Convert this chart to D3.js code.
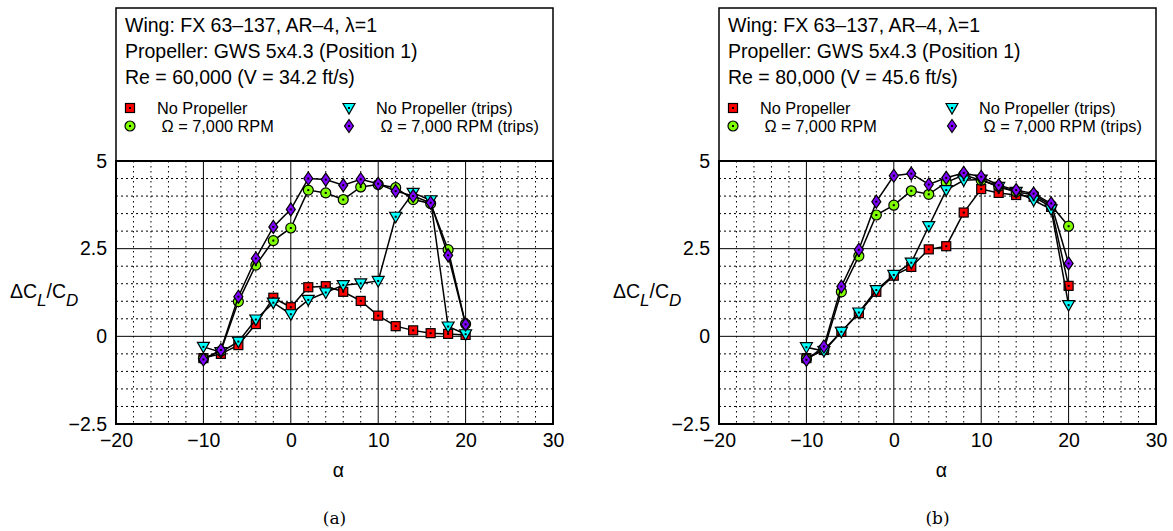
<!DOCTYPE html>
<html>
<head>
<meta charset="utf-8">
<script src="https://cdn.jsdelivr.net/npm/d3@7"></script>
<style>
  body { margin: 0; background: #fff; }
  text { font-family: "Liberation Sans", Arial, sans-serif; }
</style>
</head>
<body>
<div id="main"></div>
<script>
// angle of attack (deg)
var alpha = [-10, -8, -6, -4, -2, 0, 2, 4, 6, 8, 10, 12, 14, 16, 18, 20];

// Re = 60,000
var noPropA     = [-0.62, -0.50, -0.25, 0.35, 1.10, 0.83, 1.40, 1.43, 1.27, 1.01, 0.59, 0.29, 0.17, 0.09, 0.07, 0.04];
var propA       = [-0.64, -0.42, 0.99, 2.03, 2.73, 3.09, 4.17, 4.09, 3.90, 4.26, 4.33, 4.24, 3.90, 3.79, 2.47, 0.35];
var noPropTripA = [-0.30, -0.45, -0.15, 0.48, 0.96, 0.63, 1.04, 1.25, 1.46, 1.51, 1.58, 3.41, 4.09, 3.88, 0.28, 0.06];
var propTripA   = [-0.66, -0.39, 1.13, 2.22, 3.12, 3.62, 4.50, 4.47, 4.31, 4.48, 4.35, 4.14, 4.00, 3.81, 2.31, 0.34];

// Re = 80,000
var noPropB     = [-0.62, -0.39, 0.13, 0.66, 1.27, 1.73, 1.98, 2.48, 2.57, 3.53, 4.20, 4.09, 4.03, 3.98, 3.69, 1.44];
var propB       = [-0.64, -0.38, 1.27, 2.29, 3.46, 3.74, 4.15, 4.05, 4.39, 4.60, 4.45, 4.28, 4.12, 4.03, 3.74, 3.14];
var noPropTripB = [-0.31, -0.42, 0.13, 0.68, 1.32, 1.75, 2.10, 3.14, 4.17, 4.45, 4.47, 4.26, 4.12, 3.88, 3.62, 0.89];
var propTripB   = [-0.67, -0.29, 1.42, 2.47, 3.84, 4.58, 4.64, 4.33, 4.52, 4.66, 4.55, 4.31, 4.17, 4.07, 3.79, 2.08];

var xTicks = [-20, -10, 0, 10, 20, 30];
var yTicks = [-2.5, 0, 2.5, 5];
var seriesNames = ["No Propeller", " \u03a9 = 7,000 RPM", "No Propeller (trips)", " \u03a9 = 7,000 RPM (trips)"];
var seriesColors = ["#ff0000", "#80ff00", "#00ffff", "#8000ff"];
var seriesShapes = ["square", "circle", "triangle", "diamond"];

var svg = d3.select("#main").append("svg")
    .attr("width", 1173)
    .attr("height", 531);

function marker(g, shape, color) {
    if (shape === "square") {
        g.append("rect").attr("x", -4.5).attr("y", -4.5).attr("width", 9).attr("height", 9)
            .attr("fill", color).attr("stroke", "#000").attr("stroke-width", 1.2);
    } else if (shape === "circle") {
        g.append("circle").attr("r", 5).attr("fill", color).attr("stroke", "#000").attr("stroke-width", 1.2);
    } else if (shape === "triangle") {
        g.append("path").attr("d", "M-6,-4.5L6,-4.5L0,6Z")
            .attr("fill", color).attr("stroke", "#000").attr("stroke-width", 1.2);
    } else {
        g.append("path").attr("d", "M0,-6.5L4.5,0L0,6.5L-4.5,0Z")
            .attr("fill", color).attr("stroke", "#000").attr("stroke-width", 1.2);
    }
    // small centre dot
    g.append("rect").attr("x", -1).attr("y", -1).attr("width", 2).attr("height", 2).attr("fill", "#000");
}

function drawPanel(left, reLine, seriesData, caption) {
    var plot = {left: left, top: 161, width: 437, height: 263};
    var x = d3.scaleLinear().domain([-20, 30]).range([plot.left, plot.left + plot.width]);
    var y = d3.scaleLinear().domain([-2.5, 5]).range([plot.top + plot.height, plot.top]);
    var g = svg.append("g");

    // legend / info box
    g.append("rect")
        .attr("x", plot.left).attr("y", 8)
        .attr("width", plot.width).attr("height", plot.top - 8)
        .attr("fill", "none").attr("stroke", "#000").attr("stroke-width", 1.5);

    var lines = ["Wing: FX 63\u2013137, AR\u20134, \u03bb=1", "Propeller: GWS 5x4.3 (Position 1)", reLine];
    lines.forEach(function(t, i) {
        g.append("text").attr("x", plot.left + 9).attr("y", 32 + i * 26)
            .attr("font-size", 19.5).text(t);
    });

    seriesNames.forEach(function(name, i) {
        var col = i < 2 ? 0 : 1;
        var row = i % 2;
        var mx = plot.left + (col ? 233 : 14);
        var my = 108 + row * 18;
        marker(g.append("g").attr("transform", "translate(" + mx + "," + my + ")"), seriesShapes[i], seriesColors[i]);
        g.append("text").attr("x", mx + 27).attr("y", my + 5.5)
            .attr("font-size", 16.3).attr("xml:space", "preserve").text(name);
    });

    // minor grid
    var minorX = d3.range(-18, 30, 2).filter(function(v) { return v % 10 !== 0; });
    var minorY = d3.range(-2, 5, 0.5).filter(function(v) { return Math.abs(v % 2.5) > 1e-9; });
    g.selectAll(".mx").data(minorX).enter().append("line")
        .attr("x1", x).attr("x2", x).attr("y1", plot.top).attr("y2", plot.top + plot.height)
        .attr("stroke", "#000").attr("stroke-width", 1).attr("stroke-dasharray", "1.5,3.5");
    g.selectAll(".my").data(minorY).enter().append("line")
        .attr("y1", y).attr("y2", y).attr("x1", plot.left).attr("x2", plot.left + plot.width)
        .attr("stroke", "#000").attr("stroke-width", 1).attr("stroke-dasharray", "2,3");

    // major grid
    g.selectAll(".gx").data([-10, 0, 10, 20]).enter().append("line")
        .attr("x1", x).attr("x2", x).attr("y1", plot.top).attr("y2", plot.top + plot.height)
        .attr("stroke", "#000").attr("stroke-width", 1);
    g.selectAll(".gy").data([0, 2.5]).enter().append("line")
        .attr("y1", y).attr("y2", y).attr("x1", plot.left).attr("x2", plot.left + plot.width)
        .attr("stroke", "#000").attr("stroke-width", 1);

    // axes
    var xAxis = g.append("g").attr("transform", "translate(0," + (plot.top + plot.height) + ")")
        .call(d3.axisBottom(x).tickValues(xTicks).tickSize(0).tickPadding(9)
            .tickFormat(function(d) { return d < 0 ? "\u2212" + (-d) : d; }));
    var yAxis = g.append("g").attr("transform", "translate(" + plot.left + ",0)")
        .call(d3.axisLeft(y).tickValues(yTicks).tickSize(0).tickPadding(9)
            .tickFormat(function(d) { return d < 0 ? "\u2212" + (-d) : d; }));
    [xAxis, yAxis].forEach(function(a) {
        a.select(".domain").remove();
        a.selectAll("text").attr("font-size", 19.5).attr("fill", "#000")
            .attr("font-family", "Liberation Sans, Arial, sans-serif");
    });

    // frame
    g.append("rect").attr("x", plot.left).attr("y", plot.top)
        .attr("width", plot.width).attr("height", plot.height)
        .attr("fill", "none").attr("stroke", "#000").attr("stroke-width", 2);

    // series
    var line = d3.line()
        .x(function(d) { return x(d[0]); })
        .y(function(d) { return y(d[1]); });
    seriesData.forEach(function(vals, i) {
        var pts = alpha.map(function(a, j) { return [a, vals[j]]; });
        g.append("path").datum(pts).attr("d", line)
            .attr("fill", "none").attr("stroke", "#000").attr("stroke-width", 1.5);
        pts.forEach(function(p) {
            marker(g.append("g").attr("transform", "translate(" + x(p[0]) + "," + y(p[1]) + ")"),
                seriesShapes[i], seriesColors[i]);
        });
    });

    // axis titles
    var cx = plot.left + plot.width / 2 + 4;
    g.append("text").attr("x", cx).attr("y", 477).attr("text-anchor", "middle")
        .attr("font-size", 19.5).text("\u03b1");
    var yl = g.append("text").attr("x", plot.left - 106).attr("y", 298).attr("font-size", 19.5);
    yl.append("tspan").text("\u0394C");
    yl.append("tspan").attr("dy", 8).attr("font-style", "italic").attr("font-size", 17).text("L");
    yl.append("tspan").attr("dy", -8).text("/C");
    yl.append("tspan").attr("dy", 8).attr("font-style", "italic").attr("font-size", 17).text("D");

    g.append("text").attr("x", cx - 4).attr("y", 524).attr("text-anchor", "middle")
        .attr("font-size", 17).style("font-family", "DejaVu Serif, Liberation Serif, serif").text(caption);
}

drawPanel(116, "Re = 60,000 (V = 34.2 ft/s)", [noPropA, propA, noPropTripA, propTripA], "(a)");
drawPanel(719, "Re = 80,000 (V = 45.6 ft/s)", [noPropB, propB, noPropTripB, propTripB], "(b)");
</script>
</body>
</html>
